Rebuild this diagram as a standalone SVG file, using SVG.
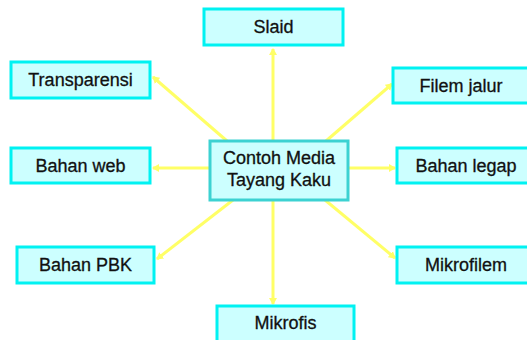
<svg xmlns="http://www.w3.org/2000/svg" width="527" height="340" viewBox="0 0 527 340">
<defs>
<style>
.box{fill:#ccffff;stroke:#00f2f2;stroke-width:3}
.center{fill:#ccffff;stroke:#3cd2d2;stroke-width:3}
.t{font-family:"Liberation Sans",Arial,sans-serif;font-size:18px;fill:#111;text-anchor:middle;stroke:#111;stroke-width:0.3}
.c{fill:none;stroke:#ffff66;stroke-width:3;marker-end:url(#ah)}
</style>
<marker id="ah" markerWidth="8" markerHeight="8" refX="6" refY="4" orient="auto" markerUnits="userSpaceOnUse">
<path d="M0,0 L7,4 L0,8 z" fill="#ffff66"/>
</marker>
</defs>
<rect width="527" height="340" fill="#ffffff"/>
<g id="connectors">
<line class="c" x1="273" y1="140" x2="273" y2="49"/>
<line class="c" x1="227" y1="141" x2="153" y2="77"/>
<line class="c" x1="326" y1="141" x2="392" y2="84"/>
<line class="c" x1="210" y1="168" x2="153" y2="168"/>
<line class="c" x1="348" y1="168" x2="395" y2="168"/>
<line class="c" x1="233" y1="200" x2="157" y2="259"/>
<line class="c" x1="325" y1="200" x2="395" y2="258"/>
<line class="c" x1="273" y1="200" x2="273" y2="304"/>
</g>
<g id="n-center"><rect class="center" x="210" y="141" width="138" height="59"/><text class="t" x="279" y="164">Contoh Media</text><text class="t" x="279" y="186">Tayang Kaku</text></g>
<g id="n-slaid"><rect class="box" x="204" y="9" width="139" height="36"/><text class="t" x="273.5" y="33">Slaid</text></g>
<g id="n-transparensi"><rect class="box" x="11" y="62" width="139" height="36"/><text class="t" x="80.5" y="86">Transparensi</text></g>
<g id="n-bahanweb"><rect class="box" x="11" y="148" width="139" height="35"/><text class="t" x="80.5" y="172">Bahan web</text></g>
<g id="n-bahanpbk"><rect class="box" x="17" y="247" width="137" height="36"/><text class="t" x="85.5" y="271">Bahan PBK</text></g>
<g id="n-filemjalur"><rect class="box" x="393" y="68" width="137" height="35"/><text class="t" x="461" y="92">Filem jalur</text></g>
<g id="n-bahanlegap"><rect class="box" x="397" y="148" width="138" height="35"/><text class="t" x="466" y="172">Bahan legap</text></g>
<g id="n-mikrofilem"><rect class="box" x="397" y="247" width="138" height="36"/><text class="t" x="466" y="271">Mikrofilem</text></g>
<g id="n-mikrofis"><rect class="box" x="217" y="306" width="137" height="38"/><text class="t" x="285.5" y="329">Mikrofis</text></g>
</svg>
